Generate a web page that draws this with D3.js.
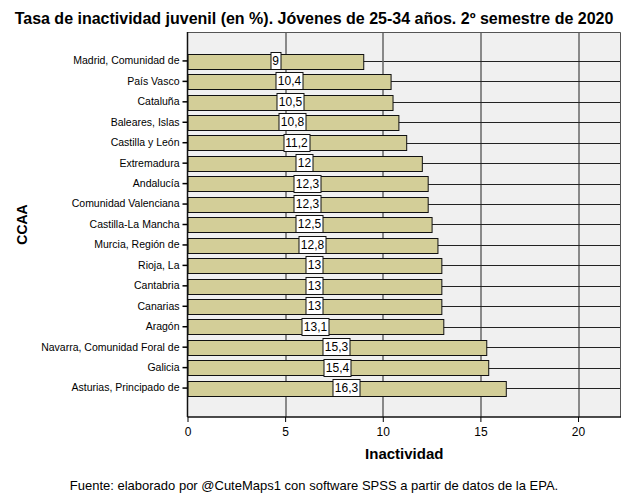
<!DOCTYPE html>
<html>
<head>
<meta charset="utf-8">
<script src="https://cdn.jsdelivr.net/npm/d3@7"></script>
<style>
body { margin: 0; background: #fff; }
svg { font-family: Arial, "Liberation Sans", sans-serif; }
</style>
</head>
<body>
<svg class="chart"></svg>
<script>
var regions = ["Madrid, Comunidad de", "País Vasco", "Cataluña", "Baleares, Islas", "Castilla y León",
    "Extremadura", "Andalucía", "Comunidad Valenciana", "Castilla-La Mancha", "Murcia, Región de",
    "Rioja, La", "Cantabria", "Canarias", "Aragón", "Navarra, Comunidad Foral de", "Galicia",
    "Asturias, Principado de"];
var inactividad = [9, 10.4, 10.5, 10.8, 11.2, 12, 12.3, 12.3, 12.5, 12.8, 13, 13, 13, 13.1, 15.3, 15.4, 16.3];
var xTicks = [0, 5, 10, 15, 20];

var width = 629;
var height = 504;
var margin = { top: 32, right: 8, bottom: 87, left: 187.5 };
var plotW = width - margin.left - margin.right;
var plotH = height - margin.top - margin.bottom;

var data = regions.map(function(r, i) { return { name: r, value: inactividad[i] }; });

var chart = d3.select(".chart")
    .attr("width", width)
    .attr("height", height);

var x = d3.scaleLinear()
    .domain([0, 22.2])
    .range([0, plotW]);

var y = d3.scaleBand()
    .domain(regions)
    .range([0, plotH])
    .paddingInner(0.29)
    .paddingOuter(1.06);

var fmt = function(v) { return String(v).replace(".", ","); };

// title
chart.append("text")
    .attr("x", 314)
    .attr("y", 24)
    .attr("text-anchor", "middle")
    .style("font-size", "16px")
    .style("font-weight", "bold")
    .text("Tasa de inactividad juvenil (en %). Jóvenes de 25-34 años. 2º semestre de 2020");

var g = chart.append("g")
    .attr("transform", "translate(" + margin.left + "," + margin.top + ")");

g.append("rect")
    .attr("width", plotW)
    .attr("height", plotH)
    .attr("fill", "#f0f0f0");

// grid lines
g.selectAll("line.hgrid")
    .data(regions)
    .enter()
    .append("line")
    .attr("class", "hgrid")
    .attr("x1", 0)
    .attr("x2", plotW)
    .attr("y1", function(d) { return Math.round(y(d) + y.bandwidth() / 2) + 0.5; })
    .attr("y2", function(d) { return Math.round(y(d) + y.bandwidth() / 2) + 0.5; })
    .attr("stroke", "#222")
    .attr("stroke-width", 1);

g.selectAll("line.vgrid")
    .data(xTicks.slice(1))
    .enter()
    .append("line")
    .attr("class", "vgrid")
    .attr("x1", function(d) { return Math.round(x(d)) + 0.5; })
    .attr("x2", function(d) { return Math.round(x(d)) + 0.5; })
    .attr("y1", 0)
    .attr("y2", plotH)
    .attr("stroke", function(d) { return d == 10 ? "#666" : "#222"; })
    .attr("stroke-width", function(d) { return d == 10 ? 1.5 : 1; });

// frame top/right
g.append("path")
    .attr("d", "M0,0.5H" + (plotW - 0.5) + "V" + plotH)
    .attr("fill", "none")
    .attr("stroke", "#555");

// bars
g.selectAll("rect.bar")
    .data(data)
    .enter()
    .append("rect")
    .attr("class", "bar")
    .attr("x", 0.5)
    .attr("y", function(d) { return Math.round(y(d.name)) + 0.5; })
    .attr("width", function(d) { return x(d.value); })
    .attr("height", Math.round(y.bandwidth()))
    .attr("fill", "#d3ce98")
    .attr("stroke", "#111")
    .attr("stroke-width", 1);

// value labels
var lab = g.selectAll("g.lab")
    .data(data)
    .enter()
    .append("g")
    .attr("class", "lab")
    .attr("transform", function(d) {
        return "translate(" + Math.round(x(d.value) / 2) + "," + Math.round(y(d.name) + y.bandwidth() / 2) + ")";
    });

lab.append("text")
    .attr("text-anchor", "middle")
    .attr("dy", "0.36em")
    .style("font-size", "12px")
    .text(function(d) { return fmt(d.value); });

lab.insert("rect", "text")
    .each(function() {
        var bb = this.parentNode.querySelector("text").getBBox();
        d3.select(this)
            .attr("x", Math.round(bb.x - 2) + 0.5)
            .attr("y", -8.5)
            .attr("width", Math.round(bb.width + 3))
            .attr("height", 17)
            .attr("fill", "#fff")
            .attr("stroke", "#111");
    });

// axes
var xAxis = g.append("g")
    .attr("transform", "translate(0," + plotH + ")")
    .call(d3.axisBottom(x).tickValues(xTicks).tickSize(5).tickPadding(5));
xAxis.select(".domain").attr("stroke", "#111").attr("stroke-width", 1.5).attr("d", "M0,0H" + plotW);
xAxis.selectAll("text").style("font-size", "12px").style("font-family", "Arial, 'Liberation Sans', sans-serif");

var yAxis = g.append("g")
    .call(d3.axisLeft(y).tickSize(5).tickPadding(3));
yAxis.select(".domain").attr("stroke", "#111").attr("stroke-width", 1.5).attr("d", "M0,0V" + plotH);
yAxis.selectAll("text").style("font-size", "10.5px").style("font-family", "Arial, 'Liberation Sans', sans-serif");
yAxis.selectAll(".tick line").attr("stroke-width", 1.5);

// axis titles
chart.append("text")
    .attr("x", margin.left + plotW / 2)
    .attr("y", 459)
    .attr("text-anchor", "middle")
    .style("font-size", "15px")
    .style("font-weight", "bold")
    .text("Inactividad");

chart.append("text")
    .attr("transform", "translate(27," + (margin.top + plotH / 2) + ") rotate(-90)")
    .attr("text-anchor", "middle")
    .style("font-size", "14px")
    .style("font-weight", "bold")
    .text("CCAA");

chart.append("text")
    .attr("x", 314)
    .attr("y", 490)
    .attr("text-anchor", "middle")
    .style("font-size", "13px")
    .text("Fuente: elaborado por @CuteMaps1 con software SPSS a partir de datos de la EPA.");
</script>
</body>
</html>
